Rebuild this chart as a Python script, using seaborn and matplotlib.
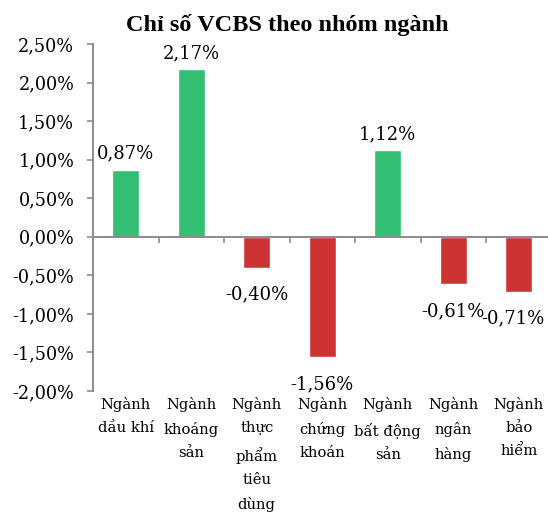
import numpy as np
import pandas as pd
import matplotlib
matplotlib.use('Agg')
import matplotlib.pyplot as plt
import seaborn as sns

# Data
categories = ['Ngành\ndầu khí', 'Ngành\nkhoáng\nsản', 'Ngành\nthực\nphẩm\ntiêu\ndùng',
              'Ngành\nchứng\nkhoán', 'Ngành\nbất động\nsản', 'Ngành\nngân\nhàng', 'Ngành\nbảo\nhiểm']
values = [0.87, 2.17, -0.40, -1.56, 1.12, -0.61, -0.71]
yticks = [-2.0, -1.5, -1.0, -0.5, 0.0, 0.5, 1.0, 1.5, 2.0, 2.5]

green = '#33BF74'
red = '#CC3333'
axis_grey = '#8C8C8C'

df = pd.DataFrame({'category': categories, 'value': values})
colors = [green if v >= 0 else red for v in values]

sns.set_style('white')
plt.rcParams['font.family'] = ['DejaVu Serif']
plt.rcParams['text.color'] = 'black'
plt.rcParams['xtick.color'] = 'black'
plt.rcParams['ytick.color'] = 'black'

fig = plt.figure(figsize=(5.48, 5.15), dpi=100)
ax = fig.add_axes([93 / 548, 1 - 391 / 515, 455 / 548, 347 / 515])

sns.barplot(data=df, x='category', y='value', hue='category', palette=colors,
            legend=False, width=0.41, saturation=1, ax=ax)

ax.set_xlim(-0.5, -0.5 + 455 / 65.5)
ax.set_ylim(-2.0, 2.5)
ax.set_xlabel('')
ax.set_ylabel('')

# y axis
ax.set_yticks(yticks)
ax.set_yticklabels([f'{t:.2f}%'.replace('.', ',') for t in yticks], fontsize=12.7)
ax.tick_params(axis='y', length=4.5, width=1.2, color=axis_grey, labelcolor='black',
               pad=9, left=True)

# x axis sits on zero, ticks between categories
ax.spines['bottom'].set_position(('data', 0))
ax.set_xticks(np.arange(-0.5, len(categories) - 0.5))
ax.set_xticklabels([])
ax.tick_params(axis='x', length=4.5, width=1.2, color=axis_grey, bottom=True, direction='out')

for side in ['top', 'right']:
    ax.spines[side].set_visible(False)
for side in ['left', 'bottom']:
    ax.spines[side].set_color(axis_grey)
    ax.spines[side].set_linewidth(1.4)

# value labels (last one nudged left so it stays inside the figure)
for i, v in enumerate(values):
    txt = f'{v:.2f}%'.replace('.', ',')
    dx = -4.5 if i == len(values) - 1 else 0
    if v >= 0:
        ax.annotate(txt, xy=(i, v), xytext=(dx, 5), textcoords='offset points',
                    ha='center', va='bottom', fontsize=13, annotation_clip=False)
    else:
        ax.annotate(txt, xy=(i, v), xytext=(dx, -13), textcoords='offset points',
                    ha='center', va='top', fontsize=13, annotation_clip=False)

# category labels below the plot
for i, c in enumerate(categories):
    ax.annotate(c, xy=(i, 0), xycoords=('data', 'axes fraction'), xytext=(0, -4),
                textcoords='offset points', ha='center', va='top', fontsize=10.6,
                linespacing=1.85, annotation_clip=False)

fig.text(287 / 548, 1 - 31 / 515, 'Chỉ số VCBS theo nhóm ngành', ha='center', va='baseline',
         fontsize=17.5, fontweight='bold', family=['Liberation Serif'], color='black')

fig.savefig('out.png', dpi=100)
